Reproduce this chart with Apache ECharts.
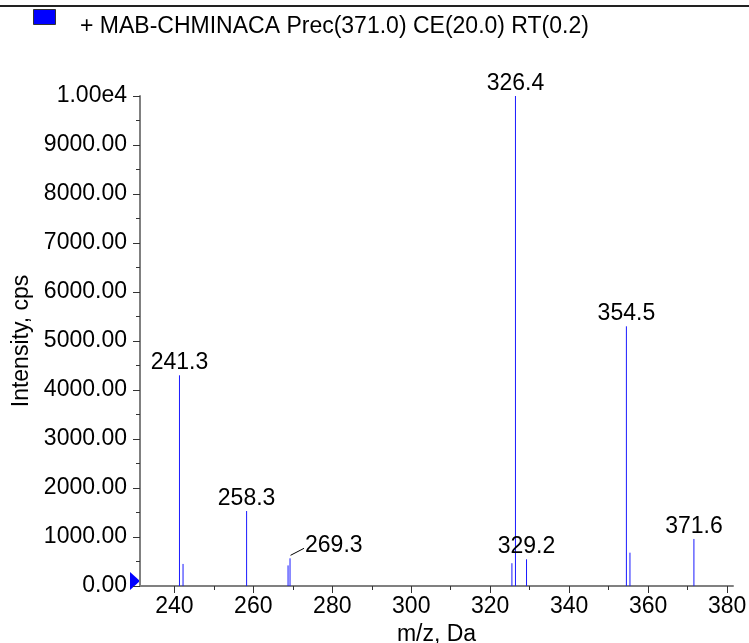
<!DOCTYPE html>
<html>
<head>
<meta charset="utf-8">
<script src="https://cdn.jsdelivr.net/npm/echarts@6/dist/echarts.min.js"></script>
<style>
html,body{margin:0;padding:0;background:#fff;}
#c{width:749px;height:643px;}
</style>
</head>
<body>
<div id="c"></div>
<script>
// ---- data ----
const seriesName = '+ MAB-CHMINACA Prec(371.0) CE(20.0) RT(0.2)';
const mz        = [241.3, 242.2, 258.3, 268.8, 269.3, 325.5, 326.4, 329.2, 354.5, 355.4, 371.6];
const intensity = [4300,  450,   1530,  420,   565,   465,   10000, 545,   5300,  680,   960];
const peakLabels = ['241.3', '', '258.3', '', '269.3', '', '326.4', '329.2', '354.5', '', '371.6'];
const xTicks = [240, 260, 280, 300, 320, 340, 360, 380];
const yTicks = [0, 1000, 2000, 3000, 4000, 5000, 6000, 7000, 8000, 9000, 10000];
const xMin = 231.3, xMax = 381.5;

const FONT = 'Liberation Sans, Arial, sans-serif';
const FS = 23;
const leaderLabels = new Set(['269.3']);
const xMinor = xTicks.slice(0, -1).map((t, i) => (t + xTicks[i + 1]) / 2);

const chart = echarts.init(document.getElementById('c'), null, {renderer: 'canvas'});

const option = {
  animation: false,
  backgroundColor: '#fff',
  textStyle: {fontFamily: FONT},
  grid: {left: 140, right: 16, top: 96, bottom: 57, containLabel: false, outerBoundsMode: 'none'},
  xAxis: [{
    type: 'value', min: xMin, max: xMax,
    name: 'm/z, Da', nameLocation: 'middle', nameGap: 35,
    nameTextStyle: {fontSize: FS, color: '#000', fontFamily: FONT},
    splitLine: {show: false},
    axisLine: {show: true, lineStyle: {color: '#808080', width: 2}},
    axisTick: {show: true, length: 7, customValues: xTicks, lineStyle: {color: '#333', width: 1}},
    axisLabel: {customValues: xTicks, fontSize: FS, color: '#000', margin: 9, fontFamily: FONT}
  }, {
    type: 'value', min: xMin, max: xMax, position: 'bottom', gridIndex: 0,
    splitLine: {show: false},
    axisLine: {show: false},
    axisTick: {show: true, length: 4, customValues: xMinor, lineStyle: {color: '#333', width: 1}},
    axisLabel: {show: false}
  }],
  yAxis: {
    type: 'value', min: 0, max: 10000, interval: 1000,
    name: 'Intensity, cps', nameLocation: 'middle', nameGap: 106,
    nameTextStyle: {fontSize: FS, color: '#000', fontFamily: FONT},
    splitLine: {show: false},
    axisLine: {show: true, lineStyle: {color: '#808080', width: 2}},
    axisTick: {show: true, length: 7, lineStyle: {color: '#333', width: 1}},
    minorTick: {show: true, splitNumber: 2, length: 4, lineStyle: {color: '#333', width: 1}},
    axisLabel: {
      fontSize: FS, color: '#000', margin: 13, fontFamily: FONT,
      formatter: v => v === yTicks[yTicks.length - 1] ? (v / 10000).toFixed(2) + 'e4' : v.toFixed(2)
    }
  },
  series: [{
    type: 'custom',
    name: seriesName,
    clip: false,
    data: mz.map((m, i) => [m, intensity[i]]),
    renderItem: function (params, api) {
      const i = params.dataIndex;
      const x = api.value(0), y = api.value(1);
      const p0 = api.coord([x, 0]);
      const p1 = api.coord([x, y]);
      const children = [{
        type: 'line',
        shape: {x1: p0[0], y1: p0[1], x2: p1[0], y2: p1[1]},
        style: {stroke: '#1a1aff', lineWidth: 1}
      }];
      const lab = peakLabels[i];
      if (lab) {
        if (leaderLabels.has(lab)) {
          children.push({
            type: 'line',
            shape: {x1: p1[0] + 0.5, y1: p1[1] - 3, x2: p1[0] + 14, y2: p1[1] - 10},
            style: {stroke: '#000', lineWidth: 1}
          });
          children.push({
            type: 'text',
            style: {text: lab, x: p1[0] + 15, y: p1[1] - 13, align: 'left', verticalAlign: 'middle',
                    font: FS + 'px ' + FONT, fill: '#000'}
          });
        } else {
          children.push({
            type: 'text',
            style: {text: lab, x: p1[0], y: p1[1] - 1, align: 'center', verticalAlign: 'bottom',
                    font: FS + 'px ' + FONT, fill: '#000'}
          });
        }
      }
      return {type: 'group', children: children};
    }
  }]
};
chart.setOption(option);

const origin = chart.convertToPixel({xAxisIndex: 0, yAxisIndex: 0}, [xMin, 0]);
chart.setOption({
  graphic: [
    {type: 'line', shape: {x1: 0, y1: 6, x2: 749, y2: 6}, style: {stroke: '#222', lineWidth: 2}},
    {type: 'rect', shape: {x: 33.5, y: 9.5, width: 22, height: 15}, style: {fill: '#0000ff', stroke: '#333', lineWidth: 1}},
    {type: 'text', style: {text: seriesName, x: 80, y: 27, verticalAlign: 'middle', font: FS + 'px ' + FONT, fill: '#000'}},
    {type: 'polygon', shape: {points: [[origin[0] - 10, origin[1] - 14], [origin[0], origin[1] - 5], [origin[0] - 10, origin[1] + 4]]},
     style: {fill: '#0000ff'}}
  ]
});
</script>
</body>
</html>
